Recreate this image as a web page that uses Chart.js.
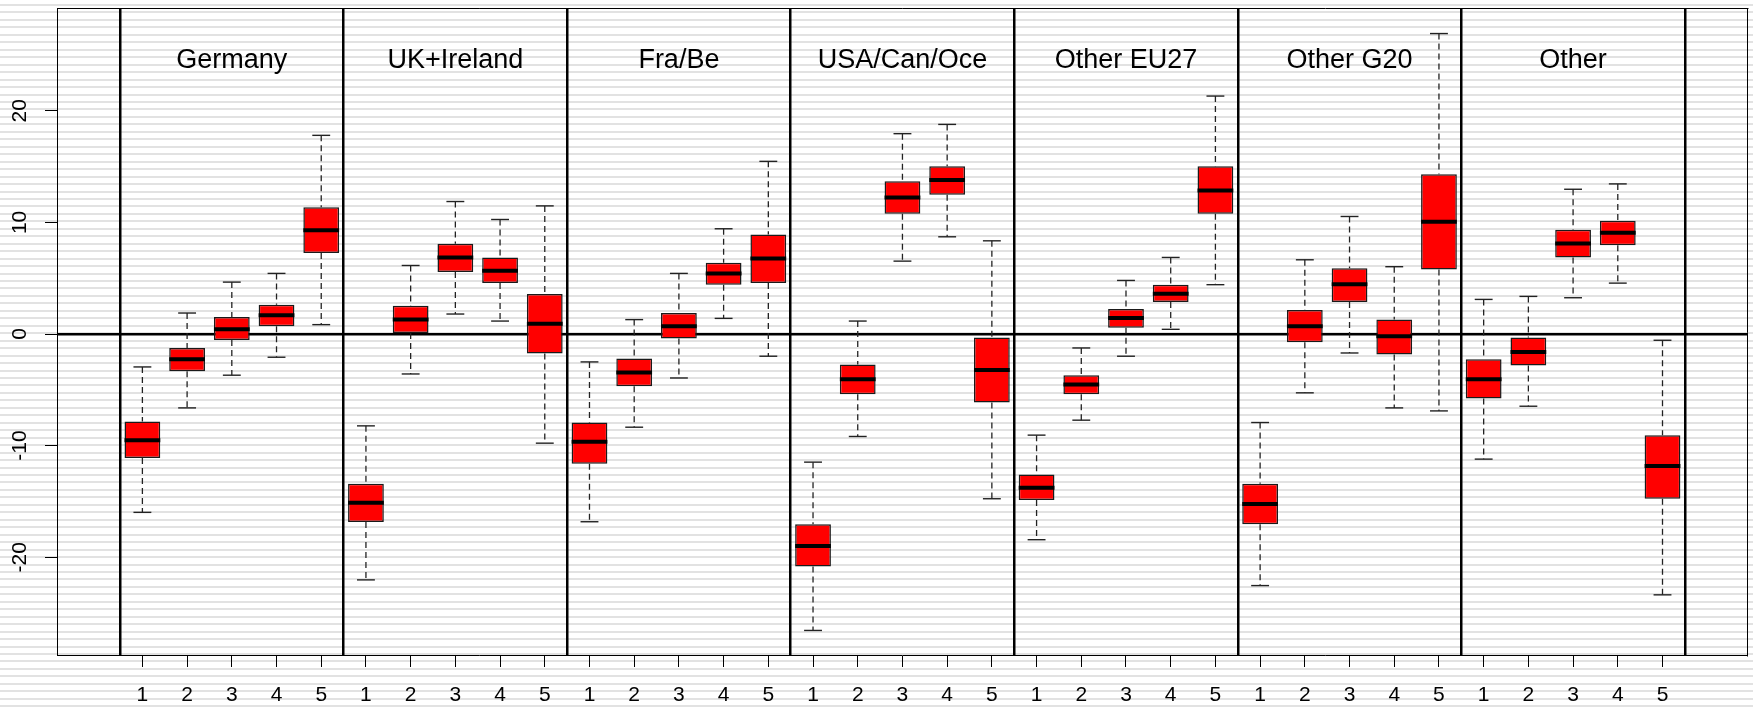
<!DOCTYPE html>
<html>
<head>
<meta charset="utf-8">
<script src="https://cdn.jsdelivr.net/npm/chart.js@4.4.1/dist/chart.umd.min.js"></script>
<style>
  html, body { margin: 0; padding: 0; }
  body {
    width: 1753px; height: 707px; overflow: hidden;
    background: repeating-linear-gradient(to bottom,
      #ffffff 0px, #ffffff 4px, #e2e2e2 4px, #e2e2e2 6px, #ffffff 6px, #ffffff 7.46px);
  }
  canvas { display: block; }
</style>
</head>
<body>
<canvas id="chart" width="1753" height="707"></canvas>
<script>
// Regions, one panel of five boxes each
const groups = ['Germany', 'UK+Ireland', 'Fra/Be', 'USA/Can/Oce', 'Other EU27', 'Other G20', 'Other'];
const periods = ['1', '2', '3', '4', '5'];

// Box statistics per region (rows) and period (columns)
const whiskerLow = [
  [-15.98, -6.62, -3.69, -2.08,   0.84],
  [-22.03, -3.58,  1.79,  1.16,  -9.78],
  [-16.82, -8.35, -3.94,  1.40,  -1.99],
  [-26.56, -9.18,  6.53,  8.71, -14.76],
  [-18.43, -7.72, -1.99,  0.42,   4.42],
  [-22.54, -5.27, -1.70, -6.62,  -6.89],
  [-11.21, -6.47,  3.25,  4.56, -23.37]
];
const quartileLow = [
  [-11.12, -3.34, -0.54,  0.69,   7.25],
  [-16.84,  0.09,  5.55,  4.56,  -1.75],
  [-11.63, -4.68, -0.41,  4.42,   4.56],
  [-20.84, -5.39, 10.77, 12.47,  -6.14],
  [-14.87, -5.39,  0.57,  2.86,  10.77],
  [-17.05, -0.74,  2.86, -1.84,   5.79],
  [ -5.78, -2.83,  6.86,  7.96, -14.76]
];
const medians = [
  [ -9.51, -2.26,  0.42,  1.67,   9.30],
  [-15.12,  1.31,  6.86,  5.67,   0.93],
  [ -9.66, -3.45,  0.69,  5.43,   6.77],
  [-18.99, -4.05, 12.23, 13.81,  -3.22],
  [-13.77, -4.53,  1.43,  3.61,  12.85],
  [-15.23,  0.69,  4.45, -0.21,  10.05],
  [ -4.05, -1.61,  8.11,  9.07, -11.83]
];
const quartileHigh = [
  [ -7.84, -1.25,  1.52,  2.63,  11.36],
  [-13.42,  2.54,  8.09,  6.86,   3.58],
  [ -7.93, -2.20,  1.88,  6.39,   8.92],
  [-17.05, -2.74, 13.69, 15.03,  -0.32],
  [-12.58, -3.69,  2.24,  4.42,  15.03],
  [-13.42,  2.15,  5.90,  1.29,  14.31],
  [ -2.26, -0.32,  9.34, 10.14,  -9.06]
];
const whiskerHigh = [
  [ -2.95,  1.88,  4.65,  5.43,  17.80],
  [ -8.23,  6.14, 11.87, 10.26,  11.48],
  [ -2.50,  1.29,  5.43,  9.43,  15.47],
  [-11.48,  1.16, 17.95, 18.78,   8.35],
  [ -9.06, -1.25,  4.80,  6.86,  21.32],
  [ -7.93,  6.65, 10.53,  6.03,  26.92],
  [  3.10,  3.37, 12.97, 13.45,  -0.56]
];

const yTicks = [-20, -10, 0, 10, 20];
const yRange = { min: -28.76, max: 29.21 };
const xRange = { min: -0.91, max: 36.89 };
const TITLE_Y = 23.8;
const BOX_WIDTH = 0.8;
const CAP_WIDTH = 0.4;

// Box positions along the x axis: 1..35, five per region
const positions = [];
const tickLabels = [];
groups.forEach((g, gi) => periods.forEach((p, pi) => {
  positions.push(gi * periods.length + pi + 1);
  tickLabels.push(p);
}));
const separators = groups.map((g, gi) => gi * periods.length + 0.5)
  .concat([groups.length * periods.length + 0.5]);
const groupCenters = groups.map((g, gi) => gi * periods.length + (periods.length + 1) / 2);

const lo = whiskerLow.flat(), q1 = quartileLow.flat(), med = medians.flat(),
      q3 = quartileHigh.flat(), hi = whiskerHigh.flat();

const boxData = positions.map((x, i) => ({ x, y: [q1[i], q3[i]] }));
const medianData = positions.map((x, i) => ({ x, y: med[i] }));
const capData = positions.flatMap((x, i) => [{ x, y: lo[i] }, { x, y: hi[i] }]);
const whiskerData = positions.flatMap((x, i) => [
  { x, y: hi[i] }, { x, y: q3[i] }, { x, y: null },
  { x, y: q1[i] }, { x, y: lo[i] }, { x, y: null }
]);

// half-width in pixels of a span given in x units
const halfPx = (chart, w) => {
  const s = chart.scales.x;
  return Math.abs(s.getPixelForValue(w) - s.getPixelForValue(0)) / 2;
};

// fixed axis thickness, no extra label overhang padding
const fixSize = size => s => {
  if (s.isHorizontal()) s.height = size; else s.width = size;
  s.paddingTop = 0; s.paddingBottom = 0; s.paddingLeft = 0; s.paddingRight = 0;
};

const FONT = '"Liberation Sans", Arial, Helvetica, sans-serif';
Chart.defaults.font.family = FONT;
Chart.defaults.color = '#000';

const groupTitles = {
  id: 'groupTitles',
  afterDatasetsDraw(chart) {
    const { ctx, scales: { x, y } } = chart;
    ctx.save();
    ctx.font = '27px ' + FONT;
    ctx.fillStyle = '#000';
    ctx.textAlign = 'center';
    ctx.textBaseline = 'alphabetic';
    groups.forEach((g, i) => {
      ctx.fillText(g, x.getPixelForValue(groupCenters[i]), y.getPixelForValue(TITLE_Y));
    });
    ctx.restore();
  }
};

new Chart(document.getElementById('chart'), {
  type: 'bar',
  data: {
    datasets: [
      {
        type: 'bar',
        label: 'box',
        data: boxData,
        backgroundColor: '#ff0000',
        borderColor: '#1a1a1a',
        borderWidth: 1.5,
        borderSkipped: false,
        barPercentage: BOX_WIDTH,
        categoryPercentage: 1.0,
        order: 1
      },
      {
        type: 'scatter',
        label: 'median',
        data: medianData,
        pointStyle: 'line',
        pointRadius: ctx => halfPx(ctx.chart, BOX_WIDTH),
        pointBorderWidth: 4,
        pointBorderColor: '#000',
        pointBackgroundColor: '#000',
        order: 0
      },
      {
        type: 'scatter',
        label: 'cap',
        data: capData,
        pointStyle: 'line',
        pointRadius: ctx => halfPx(ctx.chart, CAP_WIDTH),
        pointBorderWidth: 1.4,
        pointBorderColor: '#222',
        pointBackgroundColor: '#222',
        order: 2
      },
      {
        type: 'line',
        label: 'whisker',
        data: whiskerData,
        borderColor: '#222',
        borderWidth: 1.3,
        borderDash: [6, 4],
        pointRadius: 0,
        spanGaps: false,
        fill: false,
        tension: 0,
        order: 3
      }
    ]
  },
  options: {
    responsive: false,
    animation: false,
    devicePixelRatio: 1,
    events: [],
    layout: { padding: { top: 8, right: 6, left: 0, bottom: 0 } },
    plugins: { legend: { display: false }, tooltip: { enabled: false } },
    scales: {
      x: {
        type: 'linear',
        position: 'bottom',
        offset: false,
        min: xRange.min, max: xRange.max,
        afterBuildTicks: s => { s.ticks = positions.map(v => ({ value: v })); },
        afterFit: fixSize(52),
        ticks: {
          autoSkip: false, minRotation: 0, maxRotation: 0, padding: 16,
          font: { size: 21 }, color: '#000',
          callback: (v, i) => tickLabels[i]
        },
        grid: { offset: false, drawOnChartArea: false, drawTicks: true, tickLength: 12, tickColor: '#000', tickWidth: 1 },
        border: { display: true, color: '#000', width: 1 }
      },
      y: {
        type: 'linear',
        position: 'left',
        min: yRange.min, max: yRange.max,
        afterBuildTicks: s => { s.ticks = yTicks.map(v => ({ value: v })); },
        afterFit: fixSize(57),
        ticks: {
          minRotation: 90, maxRotation: 90, crossAlign: 'center', padding: 10,
          font: { size: 21 }, color: '#000',
          callback: v => String(v)
        },
        grid: { drawOnChartArea: false, drawTicks: true, tickLength: 12, tickColor: '#000', tickWidth: 1 },
        border: { display: true, color: '#000', width: 1 }
      },
      xSep: {
        type: 'linear',
        position: 'top',
        offset: false,
        z: 1,
        min: xRange.min, max: xRange.max,
        afterBuildTicks: s => { s.ticks = separators.map(v => ({ value: v })); },
        afterFit: fixSize(0),
        ticks: { display: false },
        grid: { offset: false, drawOnChartArea: true, drawTicks: false, color: '#000', lineWidth: 2.5 },
        border: { display: true, color: '#000', width: 1 }
      },
      yZero: {
        type: 'linear',
        position: 'right',
        z: 1,
        min: yRange.min, max: yRange.max,
        afterBuildTicks: s => { s.ticks = [{ value: 0 }]; },
        afterFit: fixSize(0),
        ticks: { display: false },
        grid: { drawOnChartArea: true, drawTicks: false, color: '#000', lineWidth: 2.5 },
        border: { display: true, color: '#000', width: 1 }
      }
    }
  },
  plugins: [groupTitles]
});
</script>
</body>
</html>
